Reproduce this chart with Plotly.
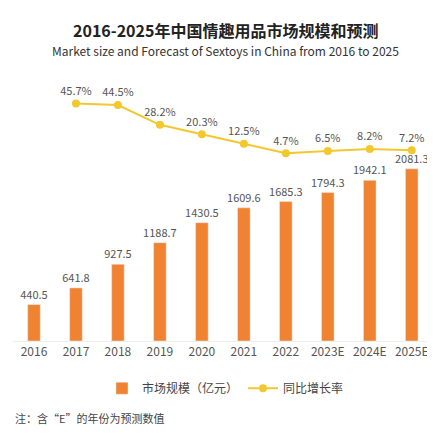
import plotly.graph_objects as go

years = ["2016","2017","2018","2019","2020","2021","2022","2023E","2024E","2025E"]
market = [440.5,641.8,927.5,1188.7,1430.5,1609.6,1685.3,1794.3,1942.1,2081.3]
growth_years = years[1:]
growth = [45.7,44.5,28.2,20.3,12.5,4.7,6.5,8.2,7.2]

fig = go.Figure()
fig.add_trace(go.Bar(x=years, y=market, name="市场规模（亿元）", marker_color="#F08331",
                     width=0.3, text=[f"{v:.1f}" for v in market], textposition="outside",
                     constraintext="none",
                     textfont=dict(color="#555", size=11), cliponaxis=False))
fig.add_trace(go.Scatter(x=growth_years, y=growth, name="同比增长率", yaxis="y2",
                         mode="lines+markers+text", line=dict(color="#F2C82F", width=2),
                         marker=dict(size=8, color="#F2C82F"),
                         text=[f"{v}%" for v in growth], textposition="top center",
                         textfont=dict(color="#555", size=11), cliponaxis=False))
fig.update_layout(
    width=435, height=448, plot_bgcolor="white", paper_bgcolor="white",
    margin=dict(l=5, r=5, t=60, b=115),
    font=dict(family="Noto Sans CJK SC", color="#444"),
    xaxis=dict(tickfont=dict(size=12, color="#555"), showline=True, linecolor="#eee"),
    yaxis=dict(range=[0, 3300], visible=False),
    yaxis2=dict(range=[-150, 75], overlaying="y", visible=False),
    bargap=0.5, showlegend=True,
    legend=dict(orientation="h", x=0.5, xanchor="center", y=-0.12, yanchor="top",
                font=dict(size=12, color="#444")),
)
fig.add_annotation(text="<b>2016-2025年中国情趣用品市场规模和预测</b>", x=0.5, y=1.0, xref="paper", yref="paper",
                   yshift=52, showarrow=False, font=dict(size=16, color="#222"), xanchor="center")
fig.add_annotation(text="Market size and Forecast of Sextoys in China from 2016 to 2025", x=0.5, y=1.0,
                   xref="paper", yref="paper", yshift=28, showarrow=False, font=dict(size=12, color="#333"), xanchor="center")
fig.add_annotation(text="注：含“E”的年份为预测数值", x=0.0, y=-0.32, xref="paper", yref="paper",
                   showarrow=False, font=dict(size=11, color="#444"), xanchor="left")
fig.write_html("out.html")
